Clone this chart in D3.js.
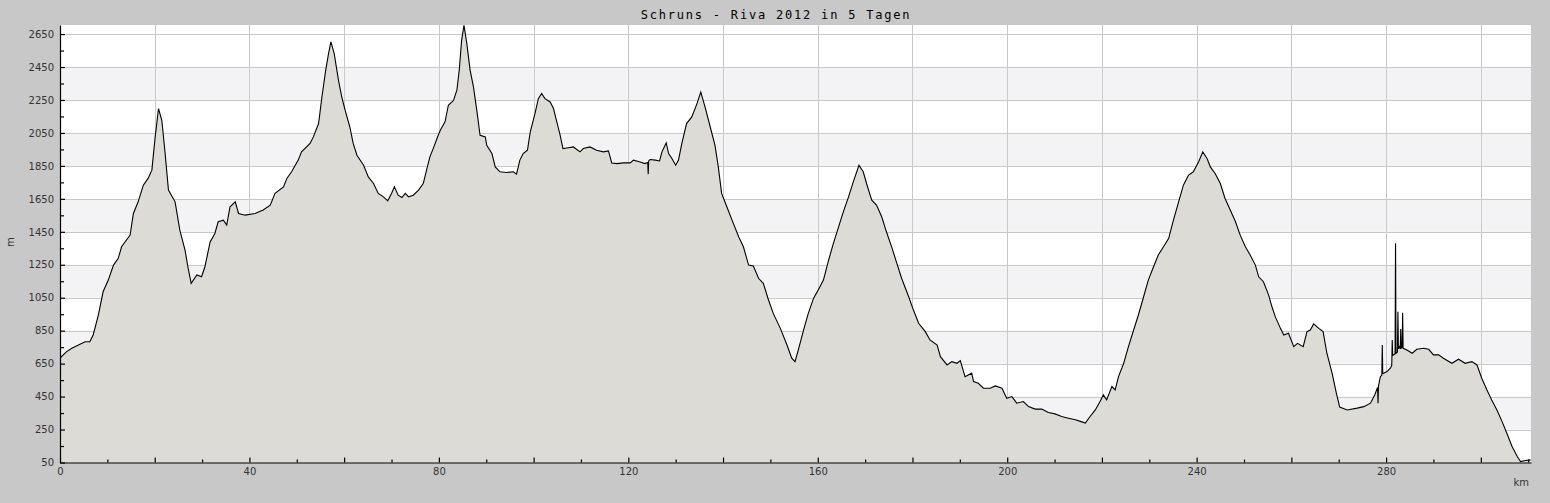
<!DOCTYPE html>
<html>
<head>
<meta charset="utf-8">
<script src="https://cdn.jsdelivr.net/npm/d3@7"></script>
<style>
  html, body { margin: 0; padding: 0; background: #c8c8c8; }
  svg { display: block; }
</style>
</head>
<body>
<svg id="chart" width="1550" height="503"></svg>
<script>
const titleText = "Schruns - Riva 2012 in 5 Tagen";
const xAxisLabel = "km";
const yAxisLabel = "m";

const kmValues = [0,0.2,1.4,2.5,3.9,5.3,6.3,7.0,8.1,9.1,10.2,11.3,12.3,13.0,14.8,15.5,16.5,17.6,18.6,19.4,20.1,20.8,21.5,22.2,22.9,24.3,25.3,26.4,27.0,27.7,28.9,29.9,30.6,31.7,32.7,33.4,34.5,35.2,35.9,37.0,37.7,39.1,41.2,42.9,44.4,45.4,47.2,47.9,48.9,50.3,51.0,52.8,53.5,54.6,55.3,56.1,56.7,57.2,57.9,58.8,59.5,60.2,61.2,61.9,62.7,64.1,65.1,66.2,67.2,68.3,69.2,70.0,70.6,71.4,72.2,72.9,73.6,74.6,75.7,76.7,77.4,78.1,78.8,79.6,80.3,81.3,82.0,83.1,83.8,84.3,84.8,85.3,85.9,86.6,87.3,88.0,88.7,89.8,90.1,91.2,91.9,92.9,94.3,95.7,96.4,97.1,97.8,98.7,99.3,100.3,101.0,101.7,102.4,103.5,104.2,104.9,105.6,106.2,107.0,108.4,109.8,110.5,111.9,113.3,114.7,115.8,116.5,117.6,119.0,120.4,121.1,122.5,123.5,124.1,124.2,124.3,124.6,125.7,126.6,127.1,128.0,128.5,129.2,130.0,130.6,131.3,132.3,133.4,134.5,135.3,136.2,137.3,138.3,139.0,139.7,140.8,141.9,143.3,144.3,145.4,146.4,147.5,148.5,149.6,150.6,152.1,153.5,154.5,155.2,155.9,157.0,158.0,159.1,160.1,161.2,162.3,163.3,164.4,165.4,166.5,167.5,168.7,169.6,170.3,171.4,172.4,173.5,174.5,175.6,176.7,177.7,179.2,180.2,181.3,182.7,183.7,185.2,185.9,187.3,188.3,189.4,190.1,191.1,192.5,192.9,193.9,195.0,196.4,197.5,198.9,199.9,201.0,202.0,203.4,204.5,205.9,207.3,208.7,210.1,211.5,212.9,214.4,215.6,216.5,217.5,218.6,219.6,220.3,221.0,222.1,222.8,223.5,224.6,225.6,226.7,227.7,228.8,229.8,230.9,231.9,233.0,234.1,235.1,236.2,237.2,238.3,239.3,240.4,241.3,242.2,242.9,243.9,245.0,246.0,247.1,248.2,249.2,250.3,251.3,252.4,253.1,254.1,255.2,255.9,256.6,257.7,258.4,259.4,260.5,261.3,262.5,263.3,264.0,264.7,265.8,266.7,267.5,268.6,269.5,270.2,271.8,273.9,275.3,276.7,277.6,278.2,278.3,278.4,278.8,279.1,279.2,279.3,279.5,280.2,280.9,281.2,281.3,281.4,281.9,282.0,282.1,282.4,282.5,282.6,282.8,283.0,283.1,283.2,283.4,283.5,283.6,284.4,285.5,286.5,287.9,289.0,290.0,291.1,292.1,293.9,295.3,296.7,298.1,299.2,300.2,301.3,302.3,303.4,304.5,305.5,306.6,307.7,308.4,309.4,310.5];

const elevValues = [690,689,723,743,763,783,783,824,945,1086,1157,1248,1289,1359,1430,1561,1632,1733,1774,1824,2026,2198,2127,1925,1703,1632,1460,1339,1238,1137,1188,1177,1238,1389,1440,1511,1521,1491,1602,1632,1561,1551,1561,1582,1612,1683,1723,1774,1814,1885,1935,1986,2026,2107,2268,2430,2531,2602,2531,2369,2268,2188,2086,1986,1915,1854,1783,1743,1683,1662,1638,1683,1723,1672,1658,1683,1662,1672,1703,1743,1824,1905,1955,2016,2066,2117,2218,2248,2309,2430,2612,2703,2592,2430,2329,2188,2036,2026,1975,1925,1844,1814,1810,1814,1800,1885,1925,1945,2056,2168,2258,2289,2258,2238,2198,2117,2036,1955,1959,1965,1935,1955,1965,1945,1935,1941,1868,1864,1868,1868,1885,1874,1864,1870,1800,1880,1889,1885,1880,1935,1989,1925,1895,1854,1885,1986,2107,2147,2228,2298,2208,2086,1975,1844,1683,1602,1521,1420,1359,1248,1242,1168,1137,1036,955,864,763,683,662,733,854,955,1046,1097,1157,1279,1380,1480,1571,1662,1753,1854,1814,1743,1642,1612,1541,1450,1359,1258,1168,1056,975,895,844,794,763,692,642,662,652,668,571,592,541,531,501,501,515,501,440,450,410,420,389,374,374,353,345,329,319,309,298,289,329,369,420,460,430,511,490,571,652,753,854,945,1056,1157,1238,1309,1359,1410,1521,1632,1733,1794,1814,1874,1935,1895,1844,1804,1743,1652,1582,1511,1430,1359,1309,1248,1177,1147,1066,995,935,864,824,834,753,773,753,844,854,891,864,844,713,592,471,386,369,380,389,410,460,505,410,515,571,580,763,590,592,602,622,640,794,700,710,1380,713,720,965,740,753,740,860,745,750,959,743,733,713,737,743,737,703,703,683,652,677,652,662,642,561,490,430,369,298,228,147,86,56,62,66];

const xMajorTicks = [0,20,40,60,80,100,120,140,160,180,200,220,240,260,280,300];
const xMinorTicks = [10,30,50,70,90,110,130,150,170,190,210,230,250,270,290,310];
const xLabelTicks = [0,40,80,120,160,200,240,280];
const yMajorTicks = [50,250,450,650,850,1050,1250,1450,1650,1850,2050,2250,2450,2650];
const yMinorTicks = [150,350,550,750,950,1150,1350,1550,1750,1950,2150,2350,2550];

const data = kmValues.map((k, i) => ({ km: k, elev: elevValues[i] }));

const svg = d3.select("#chart");
const W = 1550, H = 503;
const plot = { left: 60, top: 25, right: 1531, bottom: 462.5 };

const x = d3.scaleLinear().domain([0, 310.6]).range([plot.left, plot.right]);
const y = d3.scaleLinear().domain([50, 2705]).range([plot.bottom, plot.top]);

svg.append("rect").attr("width", W).attr("height", H).attr("fill", "#c8c8c8");

// plot background
svg.append("rect")
  .attr("x", plot.left).attr("y", plot.top)
  .attr("width", plot.right - plot.left).attr("height", plot.bottom - plot.top)
  .attr("fill", "#ffffff");

// alternating bands
const bands = [];
for (let i = 1; i < yMajorTicks.length - 1; i += 2) bands.push([yMajorTicks[i], yMajorTicks[i + 1]]);
svg.append("g").selectAll("rect").data(bands).join("rect")
  .attr("x", plot.left).attr("width", plot.right - plot.left)
  .attr("y", d => y(d[1])).attr("height", d => y(d[0]) - y(d[1]))
  .attr("fill", "#f3f2f5");

// grid
const grid = svg.append("g").attr("stroke", "#c9c9c9").attr("stroke-width", 1).attr("shape-rendering", "crispEdges");
grid.selectAll("line.h").data(yMajorTicks.filter(v => v > 50)).join("line")
  .attr("x1", plot.left).attr("x2", plot.right)
  .attr("y1", d => Math.round(y(d)) + 0.5).attr("y2", d => Math.round(y(d)) + 0.5);
grid.selectAll("line.v").data(xMajorTicks.filter(v => v > 0)).join("line")
  .attr("y1", plot.top).attr("y2", plot.bottom)
  .attr("x1", d => Math.round(x(d)) + 0.5).attr("x2", d => Math.round(x(d)) + 0.5);

// area
const area = d3.area().x(d => x(d.km)).y0(y(50)).y1(d => y(d.elev));
svg.append("path").datum(data).attr("d", area).attr("fill", "#dcdbd6");

const line = d3.line().x(d => x(d.km)).y(d => y(d.elev));
svg.append("path").datum(data).attr("d", line)
  .attr("fill", "none").attr("stroke", "#000").attr("stroke-width", 1.1);

// axes
const fontFam = "'DejaVu Sans', sans-serif";

const yAxis = d3.axisLeft(y).tickValues(yMajorTicks).tickSizeInner(-5).tickSizeOuter(0).tickPadding(6)
  .tickFormat(d => String(d));
const gy = svg.append("g").attr("transform", `translate(${plot.left},0)`).call(yAxis);
const yMinor = d3.axisLeft(y).tickValues(yMinorTicks).tickSizeInner(-4).tickSizeOuter(0).tickFormat("");
const gy2 = svg.append("g").attr("transform", `translate(${plot.left},0)`).call(yMinor);
gy2.select(".domain").remove();

const xAxis = d3.axisBottom(x).tickValues(xMajorTicks).tickSizeInner(-5).tickSizeOuter(0).tickPadding(5)
  .tickFormat(d => xLabelTicks.includes(d) ? String(d) : "");
const gx = svg.append("g").attr("transform", `translate(0,${plot.bottom})`).call(xAxis);
const xMinor = d3.axisBottom(x).tickValues(xMinorTicks).tickSizeInner(-3).tickSizeOuter(0).tickFormat("");
const gx2 = svg.append("g").attr("transform", `translate(0,${plot.bottom})`).call(xMinor);
gx2.select(".domain").remove();

[gy, gy2, gx, gx2].forEach(g => {
  g.selectAll(".domain").attr("stroke", "#000").attr("stroke-width", 1.2);
  g.selectAll(".tick line").attr("stroke", "#000").attr("stroke-width", 1.2);
  g.selectAll("text").attr("font-family", fontFam).attr("font-size", 10).attr("fill", "#333");
});

// axis labels
svg.append("text").attr("x", 1529).attr("y", 486).attr("text-anchor", "end")
  .attr("font-family", fontFam).attr("font-size", 10).attr("fill", "#333").text(xAxisLabel);
svg.append("text").attr("transform", "translate(14.3,242) rotate(-90)").attr("text-anchor", "middle")
  .attr("font-family", fontFam).attr("font-size", 10).attr("fill", "#333").text(yAxisLabel);

// title
svg.append("text").attr("x", 776).attr("y", 18.5).attr("text-anchor", "middle")
  .attr("font-family", "'DejaVu Sans Mono', monospace").attr("font-size", 12)
  .attr("letter-spacing", 1.8).attr("fill", "#000").text(titleText);
</script>
</body>
</html>
